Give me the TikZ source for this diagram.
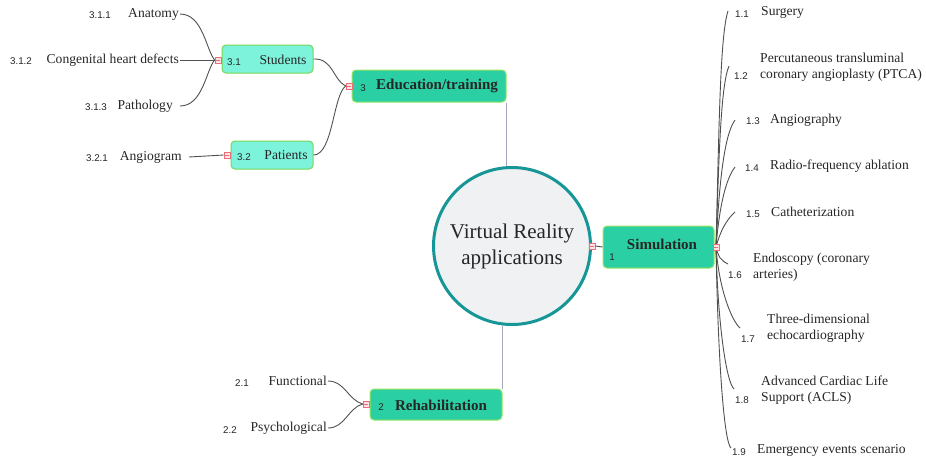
\documentclass[tikz,border=0pt]{standalone}
\usepackage{fontspec}
\setmainfont{Liberation Serif}
\newfontfamily\numfont{Liberation Sans}
\definecolor{boxfill}{RGB}{42,208,164}
\definecolor{boxedge}{RGB}{150,228,95}
\definecolor{subfill}{RGB}{125,243,220}
\definecolor{subedge}{RGB}{115,215,85}
\definecolor{circfill}{RGB}{240,241,243}
\definecolor{circedge}{RGB}{22,150,150}
\definecolor{vline}{RGB}{165,165,190}
\definecolor{conncol}{RGB}{80,80,80}
\definecolor{mkedge}{RGB}{235,110,120}
\definecolor{mkfill}{RGB}{255,225,230}
\begin{document}
\begin{tikzpicture}[x=1pt,y=-1pt,
  lbl/.style={font=\fontsize{13.6}{15.5}\selectfont, inner sep=1pt, align=left, text=black!85},
  num/.style={font=\numfont\fontsize{9.8}{11}\selectfont, inner sep=1pt, text=black!85},
  bold/.style={font=\fontsize{15}{17}\selectfont\bfseries, inner sep=1pt, text=black!85},
  mainbox/.style={draw=boxedge, fill=boxfill, line width=1pt, rounded corners=4pt, inner sep=0pt},
  subbox/.style={draw=subedge, fill=subfill, line width=1pt, rounded corners=4pt, inner sep=0pt},
  marker/.style={draw=mkedge, fill=mkfill, line width=0.6pt, minimum size=6pt, inner sep=0pt,
    path picture={\draw[mkedge,line width=0.6pt] ([xshift=1.2pt]path picture bounding box.west) -- ([xshift=-1.2pt]path picture bounding box.east);}},
  conn/.style={draw=conncol, line width=0.9pt},
  vconn/.style={draw=vline, line width=1.2pt}
]
\useasboundingbox (0,0) rectangle (926,459);

% central circle
\node[circle, draw=circedge, fill=circfill, line width=3pt, minimum size=157pt, inner sep=0pt,
  font=\fontsize{21}{26}\selectfont, align=center, text=black!85] (c) at (512,246) {Virtual Reality\\applications};

% main boxes
\node[mainbox, minimum width=154pt, minimum height=32pt] (edu) at (429,86) {};
\node[num] (n3) at (363,88) {3};
\node[bold] (edut) at (437,86) {Education/training};

\node[mainbox, minimum width=111pt, minimum height=42pt] (sim) at (658.5,247) {};
\node[num] (n1) at (612,257) {1};
\node[bold] (simt) at (662,244) {Simulation};

\node[mainbox, minimum width=132pt, minimum height=31pt] (reh) at (436,404.5) {};
\node[num] (n2) at (381,407) {2};
\node[bold] (reht) at (441,405) {Rehabilitation};

% sub boxes
\node[subbox, minimum width=91pt, minimum height=28pt] (stu) at (267.5,59) {};
\node[num] (n31) at (234,62) {3.1};
\node[lbl] (stut) at (283,60) {Students};

\node[subbox, minimum width=82pt, minimum height=28pt] (pat) at (272,155) {};
\node[num] (n32) at (244,157) {3.2};
\node[lbl] (patt) at (286,155) {Patients};

% vertical connectors from circle
\draw[vconn] (edu.south east) -- (c.north -| edu.south east);
\draw[vconn] (c.south -| reh.north east) -- (reh.north east);

% markers
\node[marker] (mc) at (592,246) {};
\node[marker] (ms) at (716,247) {};
\node[marker] (me) at (349,86) {};
\node[marker] (mst) at (218,60) {};
\node[marker] (mp) at (227,155) {};
\node[marker] (mr) at (366,404) {};

\draw[conn] (mc.east) -- (sim.west);

% left leaves
\node[lbl, anchor=east] (anat) at (180,14) {Anatomy};
\node[num] (n311) at (100,15) {3.1.1};
\node[lbl, anchor=east] (cong) at (180,60) {Congenital heart defects};
\node[num] (n312) at (21,61) {3.1.2};
\node[lbl, anchor=east] (path) at (174,106) {Pathology};
\node[num] (n313) at (96,107) {3.1.3};
\node[lbl, anchor=east] (angi) at (183,157) {Angiogram};
\node[num] (n321) at (97,158) {3.2.1};
\node[lbl, anchor=east] (func) at (328,381) {Functional};
\node[num] (n21) at (242,383) {2.1};
\node[lbl, anchor=east] (psy) at (328,428) {Psychological};
\node[num] (n22) at (230,430) {2.2};

\draw[conn] (anat.east) .. controls (203,14) and (206,50) .. (mst.west);
\draw[conn] (cong.east) -- (mst.west);
\draw[conn] ([xshift=6pt]path.east) .. controls (203,106) and (206,70) .. (mst.west);
\draw[conn] ([xshift=6pt]angi.east) -- (mp.west);
\draw[conn] (stu.east) .. controls (333,58) and (333,80) .. (me.west);
\draw[conn] (pat.east) .. controls (333,155) and (333,95) .. (me.west);
\draw[conn] (func.east) .. controls (345,381) and (348,400) .. (mr.west);
\draw[conn] (psy.east) .. controls (345,428) and (348,408) .. (mr.west);

% right leaves
\node[num] (n11) at (742,14) {1.1};
\node[lbl, anchor=west] (t11) at (760,12) {Surgery};
\node[num] (n12) at (741,76) {1.2};
\node[lbl, anchor=west] (t12) at (759,67) {Percutaneous transluminal\\coronary angioplasty (PTCA)};
\node[num] (n13) at (753,121) {1.3};
\node[lbl, anchor=west] (t13) at (769,120) {Angiography};
\node[num] (n14) at (752,168) {1.4};
\node[lbl, anchor=west] (t14) at (769,166) {Radio-frequency ablation};
\node[num] (n15) at (753,214) {1.5};
\node[lbl, anchor=west] (t15) at (770,212) {Catheterization};
\node[num] (n16) at (735,275) {1.6};
\node[lbl, anchor=west] (t16) at (752,267) {Endoscopy (coronary\\arteries)};
\node[num] (n17) at (748,339) {1.7};
\node[lbl, anchor=west] (t17) at (766,328) {Three-dimensional\\echocardiography};
\node[num] (n18) at (742,400) {1.8};
\node[lbl, anchor=west] (t18) at (760,390) {Advanced Cardiac Life\\Support (ACLS)};
\node[num] (n19) at (739,452) {1.9};
\node[lbl, anchor=west] (t19) at (756,450) {Emergency events scenario};

\coordinate (e11) at (728,11);
\coordinate (e12) at (729,66);
\coordinate (e13) at (735,120);
\coordinate (e14) at (735,167);
\coordinate (e15) at (735,212);
\coordinate (e16) at (728,264);
\coordinate (e17) at (740,328);
\coordinate (e18) at (734,389);
\coordinate (e19) at (731,448);

\draw[conn] (ms.center) .. controls (719,130) and (720,35) .. (e11);
\draw[conn] (ms.center) .. controls (719,150) and (721,85) .. (e12);
\draw[conn] (ms.center) .. controls (719,185) and (724,135) .. (e13);
\draw[conn] (ms.center) .. controls (719,210) and (725,180) .. (e14);
\draw[conn] (ms.center) .. controls (720,232) and (726,220) .. (e15);
\draw[conn] (ms.center) .. controls (718,256) and (720,260) .. (e16);
\draw[conn] (ms.center) .. controls (719,290) and (732,321) .. (e17);
\draw[conn] (ms.center) .. controls (718,330) and (727,383) .. (e18);
\draw[conn] (ms.center) .. controls (718,360) and (724,442) .. (e19);
\node[marker] at (ms) {};
\end{tikzpicture}
\end{document}
